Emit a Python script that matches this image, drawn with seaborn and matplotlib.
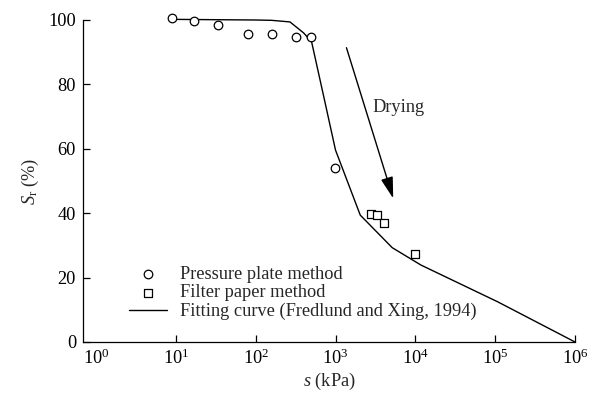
import numpy as np
import pandas as pd
import matplotlib
matplotlib.use("Agg")
import matplotlib.pyplot as plt
import seaborn as sns

# Data
pp_suction = [9, 17, 34, 79, 160, 320, 500, 980]            # kPa, pressure plate
pp_sr = [100.5, 99.8, 98.4, 95.6, 95.6, 94.6, 94.6, 54.1]     # %
fp_suction = [2820, 3320, 4030, 10000]                        # kPa, filter paper
fp_sr = [39.8, 39.4, 36.9, 27.3]
fit_suction = [8.9, 100, 158, 269, 398, 501, 708, 1000, 2042, 5129, 11749, 107152, 1000000]
fit_sr = [100.2, 100.0, 99.9, 99.4, 96.0, 93.3, 76.5, 59.6, 39.4, 29.3, 23.9, 12.5, 0.0]
x_ticks = [1, 10, 100, 1000, 10000, 100000, 1000000]
y_ticks = [0, 20, 40, 60, 80, 100]

sns.set_style("ticks")
plt.rcParams["font.family"] = ["Liberation Serif", "DejaVu Serif"]
plt.rcParams["mathtext.fontset"] = "custom"
plt.rcParams["mathtext.rm"] = "Liberation Serif"
plt.rcParams["mathtext.it"] = "Liberation Serif:italic"
plt.rcParams["mathtext.bf"] = "Liberation Serif:bold"

FS = 13.2
fig = plt.figure(figsize=(6, 3.99), dpi=100)
ax = fig.add_axes([83 / 600, 1 - 342 / 399, (575 - 83) / 600, (342 - 20) / 399])

pp = pd.DataFrame({"s": pp_suction, "Sr": pp_sr})
fp = pd.DataFrame({"s": fp_suction, "Sr": fp_sr})
fit = pd.DataFrame({"s": fit_suction, "Sr": fit_sr})

sns.lineplot(data=fit, x="s", y="Sr", ax=ax, color="black", lw=1.0, sort=False,
             label="Fitting curve (Fredlund and Xing, 1994)", clip_on=False, zorder=2)
sns.scatterplot(data=pp, x="s", y="Sr", ax=ax, marker="o", s=38, facecolor="white",
                edgecolor="black", linewidth=0.9, label="Pressure plate method",
                clip_on=False, zorder=3)
sns.scatterplot(data=fp, x="s", y="Sr", ax=ax, marker="s", s=38, facecolor="white",
                edgecolor="black", linewidth=0.9, label="Filter paper method",
                clip_on=False, zorder=3)

ax.set_xscale("log")
ax.set_xlim(0.687, 1e6)
ax.set_ylim(0, 100)
ax.set_xticks(x_ticks)
ax.set_yticks(y_ticks)
ax.minorticks_off()
ax.xaxis.set_minor_locator(matplotlib.ticker.NullLocator())
ax.tick_params(axis="both", direction="in", length=4.8, width=0.9, colors="black",
               labelsize=FS, pad=5)
ax.xaxis.get_major_ticks()[0].tick1line.set_visible(False)
for sp in ["top", "right"]:
    ax.spines[sp].set_visible(False)
for sp in ["left", "bottom"]:
    ax.spines[sp].set_linewidth(0.9)
    ax.spines[sp].set_color("black")

ax.set_xlabel(r"$\mathit{s}$ (kPa)", fontsize=FS, labelpad=2)
ax.set_ylabel(r"$\mathit{S}_\mathrm{r}$ (%)", fontsize=FS, labelpad=5)

# Drying arrow
ax.annotate("", xy=(5280, 44.6), xytext=(1371, 91.4),
            arrowprops=dict(arrowstyle="-|>,head_length=0.87,head_width=0.25",
                            mutation_scale=15, color="black", lw=1.0,
                            shrinkA=0, shrinkB=0))
ax.text(2870, 72.8, "Drying", fontsize=FS, ha="left", va="center")

handles, labels = ax.get_legend_handles_labels()
order = [labels.index("Pressure plate method"), labels.index("Filter paper method"),
         labels.index("Fitting curve (Fredlund and Xing, 1994)")]
leg = ax.legend([handles[i] for i in order], [labels[i] for i in order],
                loc="lower left", bbox_to_anchor=(0.094, 0.068), frameon=False,
                fontsize=FS, handlelength=2.05, handletextpad=0.7,
                labelspacing=0.08, borderpad=0, borderaxespad=0)

fig.savefig("out.png", dpi=100)
